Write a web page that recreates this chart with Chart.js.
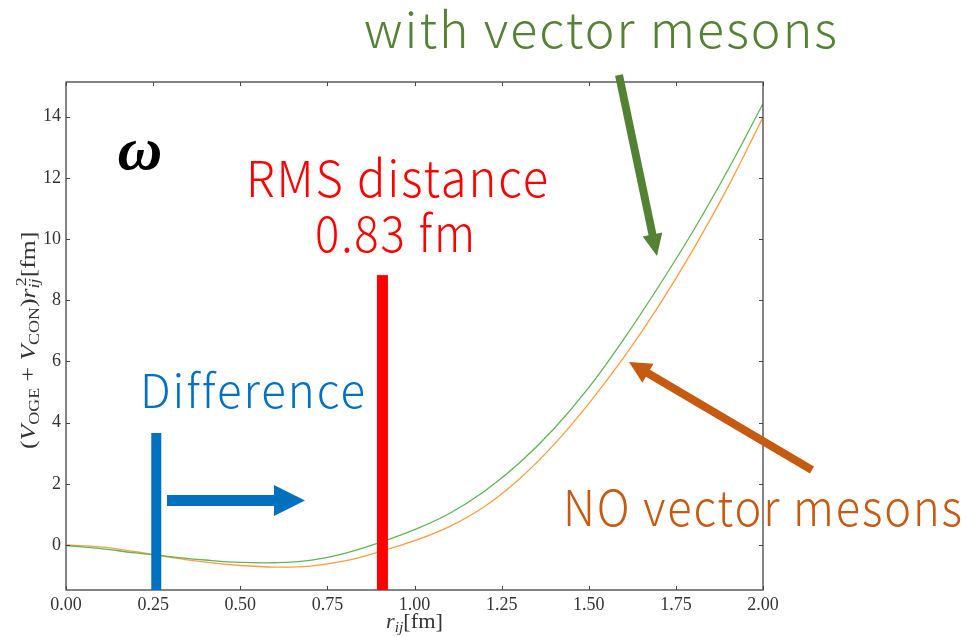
<!DOCTYPE html>
<html>
<head>
<meta charset="utf-8">
<script src="https://cdn.jsdelivr.net/npm/chart.js@4"></script>
<style>
  html, body { margin: 0; padding: 0; background: #fff; }
  #wrap { width: 966px; height: 637px; }
</style>
</head>
<body>
<div id="wrap"><canvas id="potChart" width="966" height="637"></canvas></div>
<script>
// Datos
const rValues = [0, 0.1, 0.2, 0.3, 0.4, 0.5, 0.6, 0.7, 0.8, 0.9, 1.0,
                 1.1, 1.2, 1.3, 1.4, 1.5, 1.6, 1.7, 1.8, 1.9, 2.0];
const withVector = [-0.02, -0.12, -0.26, -0.38, -0.49, -0.57, -0.58, -0.5, -0.27, 0.08, 0.5,
                    1.03, 1.75, 2.67, 3.8, 5.14, 6.72, 8.44, 10.27, 12.27, 14.42];
const noVector = [0.0, -0.06, -0.22, -0.4, -0.56, -0.67, -0.72, -0.69, -0.52, -0.22, 0.14,
                  0.6, 1.25, 2.15, 3.28, 4.62, 6.12, 7.8, 9.66, 11.71, 13.98];
const xTicks = [0, 0.25, 0.5, 0.75, 1.0, 1.25, 1.5, 1.75, 2.0];
const yTicks = [0, 2, 4, 6, 8, 10, 12, 14];

// Marcas de la diapositiva (en unidades de los ejes)
const rmsBar = { r: 0.908, top: 8.82 };
const diffBar = { r: 0.259, top: 3.66 };

const SERIF = '"Liberation Serif", "DejaVu Serif", serif';
const SANS = '"Noto Sans CJK JP", "Noto Sans", sans-serif';

function toPoints(ys) {
  return rValues.map((r, i) => ({ x: r, y: ys[i] }));
}

// texto con subindices / superindices, centrado y estirado a "width"
function drawMath(ctx, parts, size, width) {
  const fonts = parts.map(p => {
    const s = p[2] ? size * 0.7 : size;
    return (p[1] === "i" ? "italic " : "") + s + "px " + SERIF;
  });
  let w = 0;
  parts.forEach((p, i) => {
    ctx.font = fonts[i];
    if (!p[3]) w += ctx.measureText(p[0]).width;
  });
  ctx.scale(width / w, 1);
  let x = -w / 2;
  let lastX = x;
  parts.forEach((p, i) => {
    ctx.font = fonts[i];
    const dy = p[2] === "sub" ? size * 0.2 : p[2] === "sup" ? -size * 0.42 : 0;
    const px = p[3] ? lastX + 2 : x;
    ctx.fillText(p[0], px, dy);
    lastX = px;
    const adv = px + ctx.measureText(p[0]).width;
    if (adv > x) x = adv;
  });
}

function fitText(ctx, text, left, base, width, size, color) {
  ctx.save();
  ctx.font = "300 " + size + "px " + SANS;
  ctx.letterSpacing = "2px";
  ctx.fillStyle = color;
  ctx.textAlign = "left";
  ctx.textBaseline = "alphabetic";
  const w = ctx.measureText(text).width - 2;
  ctx.translate(left, base);
  ctx.scale(width / w, 1);
  ctx.fillText(text, 0, 0);
  ctx.restore();
}

function drawArrow(ctx, x1, y1, x2, y2, shaft, headLen, headW, color) {
  const ang = Math.atan2(y2 - y1, x2 - x1);
  const len = Math.hypot(x2 - x1, y2 - y1);
  ctx.save();
  ctx.translate(x1, y1);
  ctx.rotate(ang);
  ctx.fillStyle = color;
  ctx.beginPath();
  ctx.moveTo(0, -shaft / 2);
  ctx.lineTo(len - headLen, -shaft / 2);
  ctx.lineTo(len - headLen, -headW / 2);
  ctx.lineTo(len, 0);
  ctx.lineTo(len - headLen, headW / 2);
  ctx.lineTo(len - headLen, shaft / 2);
  ctx.lineTo(0, shaft / 2);
  ctx.closePath();
  ctx.fill();
  ctx.restore();
}

const overlay = {
  id: "overlay",
  afterDraw(chart) {
    const ctx = chart.ctx;
    const xs = chart.scales.x, ys = chart.scales.y;
    const a = chart.chartArea;
    ctx.save();

    // marco y ticks hacia dentro
    ctx.strokeStyle = "#444";
    ctx.lineWidth = 1.3;
    ctx.strokeRect(a.left, a.top, a.right - a.left, a.bottom - a.top);
    ctx.lineWidth = 1;
    ctx.beginPath();
    xTicks.forEach(v => {
      const px = Math.round(xs.getPixelForValue(v)) + 0.5;
      ctx.moveTo(px, a.bottom); ctx.lineTo(px, a.bottom - 4);
      ctx.moveTo(px, a.top); ctx.lineTo(px, a.top + 4);
    });
    yTicks.forEach(v => {
      const py = Math.round(ys.getPixelForValue(v)) + 0.5;
      ctx.moveTo(a.left, py); ctx.lineTo(a.left + 4, py);
      ctx.moveTo(a.right, py); ctx.lineTo(a.right - 4, py);
    });
    ctx.stroke();

    // titulos de ejes
    ctx.fillStyle = "#333";
    ctx.textBaseline = "alphabetic";
    ctx.textAlign = "left";
    ctx.save();
    ctx.translate(xs.getPixelForValue(1.0), 628);
    drawMath(ctx, [["r", "i"], ["ij", "i", "sub"], ["[fm]", "r"]], 21, 57);
    ctx.restore();
    ctx.save();
    ctx.translate(35, 341);
    ctx.rotate(-Math.PI / 2);
    drawMath(ctx, [["(", "r"], ["V", "i"], ["OGE", "r", "sub"], [" + ", "r"], ["V", "i"],
                   ["CON", "r", "sub"], [")", "r"], ["r", "i"], ["ij", "i", "sub"],
                   ["2", "r", "sup", true], ["[fm]", "r"]], 22, 216);
    ctx.restore();

    // barras
    ctx.fillStyle = "#ff0000";
    const rx = xs.getPixelForValue(rmsBar.r);
    const rt = ys.getPixelForValue(rmsBar.top);
    ctx.fillRect(rx - 5.5, rt, 11, a.bottom - rt);
    ctx.fillStyle = "#0070c0";
    const bx = xs.getPixelForValue(diffBar.r);
    const bt = ys.getPixelForValue(diffBar.top);
    ctx.fillRect(bx - 5, bt, 10, a.bottom - bt);

    // flechas
    drawArrow(ctx, 167, 500.5, 305, 500.5, 11, 31, 31, "#0070c0");
    drawArrow(ctx, 619, 75, 657, 256, 8, 22, 20, "#548235");
    drawArrow(ctx, 812, 470, 629, 362, 8, 22, 22, "#c55a11");

    // textos
    fitText(ctx, "with vector mesons", 364, 48, 473, 49, "#548235");
    fitText(ctx, "RMS distance", 246, 197, 302, 50, "#ff0000");
    fitText(ctx, "0.83 fm", 315, 252, 160, 50, "#ff0000");
    fitText(ctx, "Difference", 140, 408, 225, 46, "#0070c0");
    fitText(ctx, "NO vector mesons", 563, 526, 399, 49, "#c55a11");

    ctx.fillStyle = "#000";
    ctx.textAlign = "center";
    ctx.font = "bold italic 62px " + SERIF;
    ctx.fillText("\u03c9", 140, 169);

    ctx.restore();
  }
};

const ctx = document.getElementById("potChart").getContext("2d");
const potChart = new Chart(ctx, {
  type: "line",
  data: {
    datasets: [
      {
        label: "with vector mesons",
        data: toPoints(withVector),
        borderColor: "#5fb456",
        borderWidth: 1.3,
        pointRadius: 0,
        tension: 0.4,
        fill: false,
      },
      {
        label: "NO vector mesons",
        data: toPoints(noVector),
        borderColor: "#ff9c45",
        borderWidth: 1.3,
        pointRadius: 0,
        tension: 0.4,
        fill: false,
      },
    ],
  },
  options: {
    responsive: false,
    animation: false,
    devicePixelRatio: 1,
    layout: { padding: { top: 82, right: 203, left: 0, bottom: 0 } },
    plugins: { legend: { display: false }, tooltip: { enabled: false } },
    scales: {
      x: {
        type: "linear",
        min: 0,
        max: 2,
        grid: { display: false, drawTicks: false },
        border: { display: false },
        afterBuildTicks: s => { s.ticks = xTicks.map(v => ({ value: v })); },
        afterFit: s => { s.height = 47; },
        ticks: {
          padding: 4,
          color: "#333",
          maxRotation: 0,
          font: { family: SERIF, size: 18 },
          callback: v => Number(v).toFixed(2),
        },
      },
      y: {
        type: "linear",
        min: -1.47,
        max: 15.13,
        grid: { display: false, drawTicks: false },
        border: { display: false },
        afterBuildTicks: s => { s.ticks = yTicks.map(v => ({ value: v })); },
        afterFit: s => { s.width = 66; },
        ticks: {
          padding: 5,
          color: "#333",
          font: { family: SERIF, size: 18 },
        },
      },
    },
  },
  plugins: [overlay],
});
</script>
</body>
</html>
